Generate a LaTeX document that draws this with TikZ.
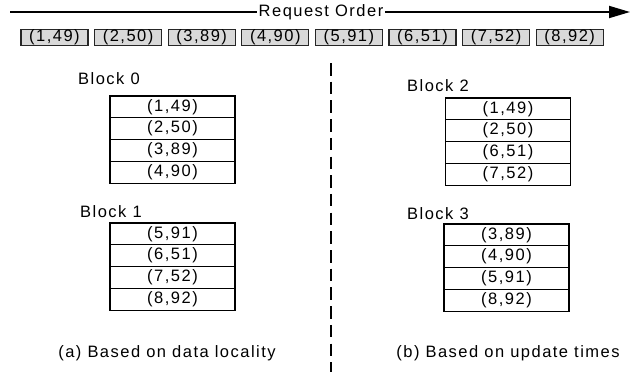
\documentclass[tikz,border=0pt]{standalone}
\usepackage{fontspec}
\setmainfont{Liberation Sans}[LetterSpace=9]
\usetikzlibrary{arrows.meta}
\begin{document}
\begin{tikzpicture}[x=1pt,y=-1pt,
  txt/.style={font=\fontsize{16.5}{19}\selectfont, inner sep=0pt},
  req/.style={txt, draw=black!85, fill=black!15, line width=1.2pt, minimum width=67pt, minimum height=16.5pt},
  cell/.style={txt, draw=black, line width=1.1pt, minimum width=125pt, minimum height=21.8pt},
  lbl/.style={txt, anchor=west}]
\useasboundingbox (0,0) rectangle (634,372);
% request order arrow
\coordinate (astart) at (10,12);
\coordinate (aend) at (630,12);
\draw[line width=1.8pt, -{Triangle[length=21pt,width=12pt]}] (astart) -- (aend);
\node[txt, fill=white, inner xsep=2pt, inner ysep=1pt] (rq) at (321,12) {Request Order};
% request boxes
\foreach \t [count=\i from 0] in {{(1,49)},{(2,50)},{(3,89)},{(4,90)},{(5,91)},{(6,51)},{(7,52)},{(8,92)}}
  \node[req] (q\i) at ({54.5+\i*73.6},37.5) {\t};
% left tables
\node[lbl] (blk0) at (78,79) {Block 0};
\foreach \t [count=\i from 0] in {{(1,49)},{(2,50)},{(3,89)},{(4,90)}}
  \node[cell] (a\i) at (172.5,{96+10.9+\i*21.8}) {\t};
\node[lbl] (blk1) at (80,212) {Block 1};
\foreach \t [count=\i from 0] in {{(5,91)},{(6,51)},{(7,52)},{(8,92)}}
  \node[cell] (b\i) at (172.5,{223+10.9+\i*21.8}) {\t};
% right tables
\node[lbl] (blk2) at (407,86) {Block 2};
\foreach \t [count=\i from 0] in {{(1,49)},{(2,50)},{(6,51)},{(7,52)}}
  \node[cell] (c\i) at (508,{98+10.9+\i*21.8}) {\t};
\node[lbl] (blk3) at (407,214) {Block 3};
\foreach \t [count=\i from 0] in {{(3,89)},{(4,90)},{(5,91)},{(8,92)}}
  \node[cell] (d\i) at (506.5,{224+10.9+\i*21.8}) {\t};
% divider
\coordinate (dtop) at (331,63);
\coordinate (dbot) at (331,372);
\draw[line width=2pt, dash pattern=on 12.5pt off 6.2pt] (dtop) -- (dbot);
% captions
\node[txt] (capa) at (167,353) {(a) Based on data locality};
\node[txt] (capb) at (508,353) {(b) Based on update times};
\end{tikzpicture}
\end{document}
